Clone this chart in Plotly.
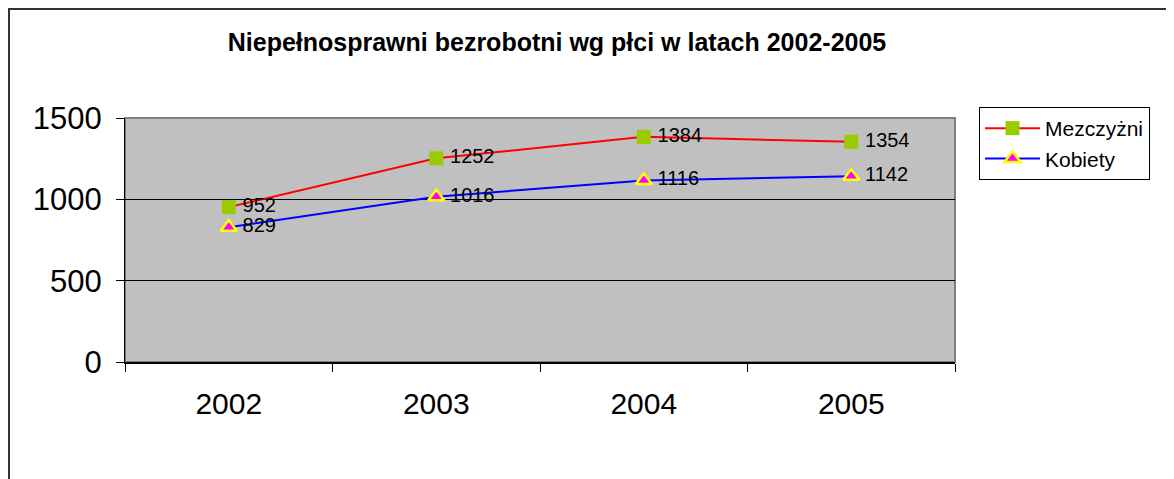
import plotly.graph_objects as go

years = ["2002", "2003", "2004", "2005"]
mezczyzni = [952, 1252, 1384, 1354]
kobiety = [829, 1016, 1116, 1142]
y_ticks = [0, 500, 1000, 1500]

# page body has an 8px margin, so layout pixel positions are shifted by -8
L, T, PW, PH = 117, 110, 830, 244

fig = go.Figure()

fig.add_trace(go.Scatter(x=years, y=mezczyzni, name="Mezczyżni",
                         mode="lines+markers+text",
                         text=["\u2009" + str(v) for v in mezczyzni],
                         textposition="middle right",
                         textfont=dict(size=20, color="black", family="Arial"),
                         line=dict(color="red", width=2),
                         marker=dict(symbol="square", size=14, color="#99CC00",
                                     line=dict(width=0))))

fig.add_trace(go.Scatter(x=years, y=kobiety, name="Kobiety",
                         mode="lines+markers+text",
                         text=["\u2009" + str(v) for v in kobiety],
                         textposition="middle right",
                         textfont=dict(size=20, color="black", family="Arial"),
                         line=dict(color="blue", width=2),
                         marker=dict(symbol="triangle-up", size=14, color="#FF00FF",
                                     line=dict(color="yellow", width=2.5))))

# outer chart frame (runs past the right/bottom edge like the original)
fig.add_shape(type="rect", xref="paper", yref="paper",
              x0=(1 - L) / PW, x1=1.6, y0=-0.8, y1=1 + (T - 1) / PH,
              line=dict(color="#333333", width=2), layer="below")
# plot area border
fig.add_shape(type="rect", xref="paper", yref="paper", x0=0, x1=1, y0=0, y1=1,
              line=dict(color="#808080", width=2), layer="below")

fig.update_layout(
    width=1174, height=479,
    margin=dict(l=L, r=1174 - L - PW, t=T, b=479 - T - PH),
    paper_bgcolor="white",
    plot_bgcolor="#C0C0C0",
    font=dict(family="Arial", color="black"),
    title=dict(text="<b>Niepełnosprawni bezrobotni wg płci w latach 2002-2005</b>",
               x=549 / 1174, xanchor="center", y=1 - 34 / 479, yanchor="middle",
               font=dict(size=25, color="black")),
    legend=dict(x=(971 - L) / PW, y=1 + (T - 99) / PH,
                xanchor="left", yanchor="top",
                bordercolor="black", borderwidth=1, bgcolor="white",
                font=dict(size=21, color="black"),
                tracegroupgap=0, itemwidth=55),
    showlegend=True,
)

fig.update_xaxes(type="category", tickson="boundaries", ticks="outside",
                 ticklen=8, tickcolor="black", tickwidth=1,
                 showline=True, linecolor="black", linewidth=2,
                 showgrid=False, tickfont=dict(size=30),
                 ticklabelstandoff=14, range=[-0.5, 3.5])
fig.update_yaxes(range=[0, 1500], tickvals=y_ticks, ticks="outside",
                 ticklen=8, tickcolor="black", tickwidth=1,
                 showline=True, linecolor="black", linewidth=1,
                 showgrid=True, gridcolor="black", gridwidth=1,
                 zeroline=False, tickfont=dict(size=31), ticklabelstandoff=8)

fig.write_html("out.html")
